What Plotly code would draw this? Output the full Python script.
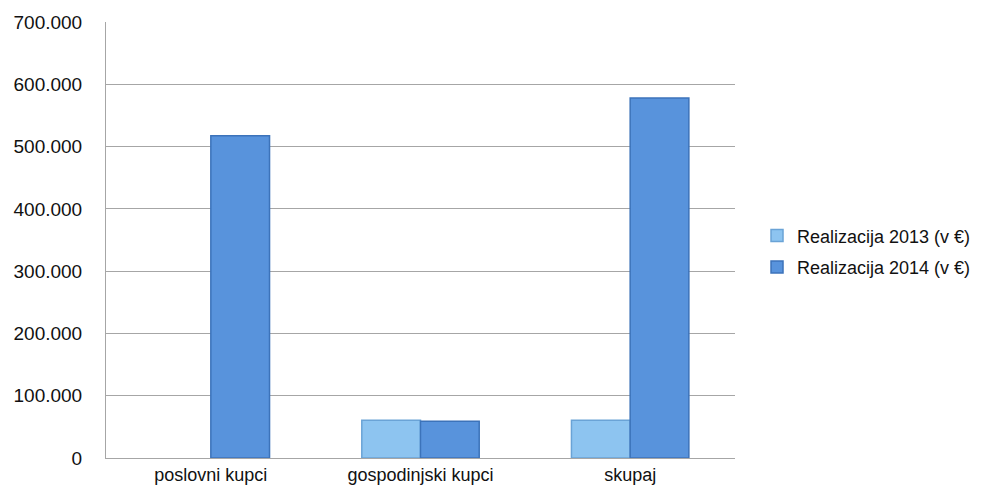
import plotly.graph_objects as go

categories = ["poslovni kupci", "gospodinjski kupci", "skupaj"]
real_2013 = [None, 60500, 60500]
real_2014 = [517500, 59000, 578000]
series_names = ["Realizacija 2013 (v €)", "Realizacija 2014 (v €)"]
y_ticks = [0, 100000, 200000, 300000, 400000, 500000, 600000, 700000]

fig = go.Figure()
fig.add_trace(go.Bar(
    x=categories, y=real_2013, name=series_names[0], legendgroup="a",
    marker=dict(color="#8DC4F0", line=dict(color="#6AA3D6", width=1.5)),
))
fig.add_trace(go.Bar(
    x=categories, y=real_2014, name=series_names[1], legendgroup="b",
    marker=dict(color="#5893DC", line=dict(color="#3C73BA", width=1.5)),
))

font = "Liberation Sans, Arial, sans-serif"
fig.update_layout(
    width=992, height=497,
    margin=dict(l=106, r=257, t=22, b=33),
    paper_bgcolor="white", plot_bgcolor="white",
    separators=",.",
    barmode="group", bargap=0.44, bargroupgap=0.0,
    font=dict(family=font, size=18, color="#111111"),
    legend=dict(
        x=1.035, xanchor="left", y=0.474, yanchor="middle",
        font=dict(size=18, color="#111111"),
        tracegroupgap=5, itemwidth=30,
        bgcolor="rgba(0,0,0,0)",
    ),
    xaxis=dict(
        showgrid=False, showline=True, linecolor="#A6A6A6", linewidth=1,
        tickfont=dict(size=18), ticks="",
    ),
    yaxis=dict(
        range=[0, 700000], tickvals=y_ticks, tickformat=",.0f",
        showgrid=True, gridcolor="#A6A6A6", gridwidth=1,
        showline=True, linecolor="#A6A6A6", linewidth=1,
        zeroline=False, ticks="", ticklabelstandoff=19,
        tickfont=dict(size=19),
    ),
)

fig.write_html("out.html")
